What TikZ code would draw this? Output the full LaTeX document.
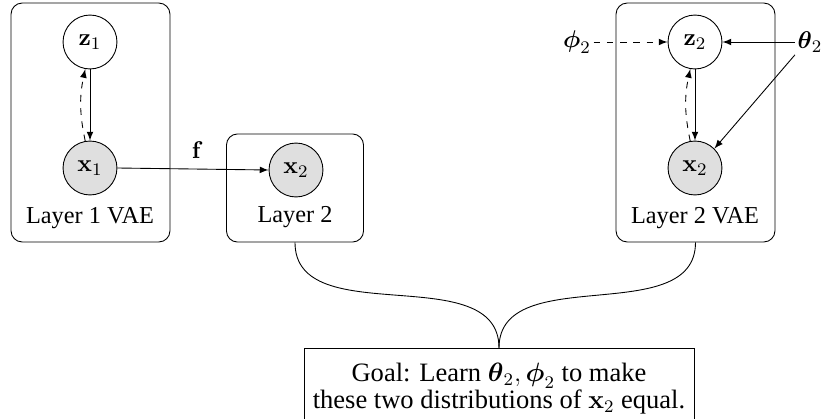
\documentclass[tikz,border=0pt]{standalone}
\usepackage{amsmath}
\usepackage[no-math]{fontspec}
\setmainfont{Liberation Serif}
\usetikzlibrary{arrows}
\begin{document}
\begin{tikzpicture}[x=0.4525pt, y=-0.4525pt,
  every node/.style={font=\fontsize{11}{13}\selectfont},
  latent/.style={circle, draw, minimum size=24.4pt, inner sep=0pt},
  observed/.style={latent, fill=gray!25},
  plate/.style={draw, rounded corners=5pt, inner sep=0pt},
  param/.style={inner sep=1pt},
  edge/.style={-latex},
  infer/.style={-latex, dashed}]
  \useasboundingbox (0,0) rectangle (824,419);

  % Layer 1 VAE
  \node[plate, minimum width=71.9pt, minimum height=108.1pt] (box1) at (90.5,122.5) {};
  \node[latent] (z1) at (90,42) {$\mathbf{z}_1$};
  \node[observed] (x1) at (90,168) {$\mathbf{x}_1$};
  \node (l1) at (90,218) {Layer 1 VAE};
  \draw[edge] (z1.south) -- (x1.north);
  \draw[infer] (x1.100) to[bend left=12] (z1.-100);

  % Layer 2 (data produced by f)
  \node[plate, minimum width=62pt, minimum height=48.9pt] (box2) at (295,188) {};
  \node[observed] (x2a) at (296,170) {$\mathbf{x}_2$};
  \node (l2) at (295,217) {Layer 2};
  \draw[edge] (x1.east) -- node[above, yshift=1pt, xshift=2pt] (f) {$\mathbf{f}$} (x2a.west);

  % Layer 2 VAE
  \node[plate, minimum width=71.9pt, minimum height=108.1pt] (box3) at (695.5,122.5) {};
  \node[latent] (z2) at (695,42) {$\mathbf{z}_2$};
  \node[observed] (x2b) at (695,168) {$\mathbf{x}_2$};
  \node (l3) at (695,218) {Layer 2 VAE};
  \draw[edge] (z2.south) -- (x2b.north);
  \draw[infer] (x2b.100) to[bend left=12] (z2.-100);
  \node[param] (phi) at (577,42) {$\boldsymbol{\phi}_2$};
  \node[param] (theta) at (810,42) {$\boldsymbol{\theta}_2$};
  \draw[infer] (phi.east) -- (z2.west);
  \draw[edge] (theta.west) -- (z2.east);
  \draw[edge] (theta.south west) -- (x2b.north east);

  % Goal
  \node[draw, minimum width=176.5pt, minimum height=42pt, anchor=north] (goal) at (499,348) {};
  \node[align=center, font={\fontsize{12}{12.3}\selectfont}] (goaltext) at (499,389)
    {Goal: Learn $\boldsymbol{\theta}_2, \boldsymbol{\phi}_2$ to make\\
     these two distributions of $\mathbf{x}_2$ equal.};
  \draw (box2.south) to[out=-90, in=90] (goal.north);
  \draw (box3.south) to[out=-90, in=90] (goal.north);
\end{tikzpicture}
\end{document}
